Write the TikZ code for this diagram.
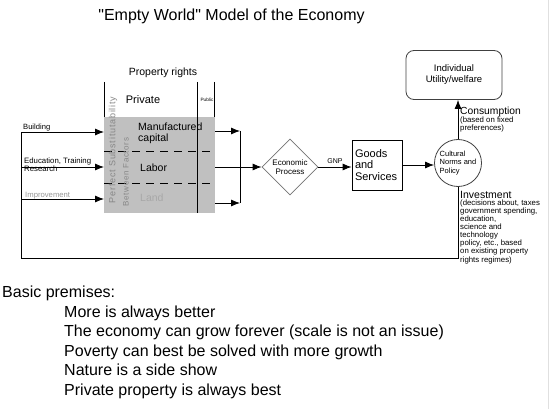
\documentclass[tikz,border=0pt]{standalone}
\usepackage{fontspec}
\setmainfont{Liberation Sans}
\usetikzlibrary{arrows.meta,shapes.geometric,positioning}
\definecolor{boxgray}{RGB}{192,192,192}
\definecolor{landgray}{RGB}{168,168,168}
\definecolor{subgray}{RGB}{135,135,135}
\definecolor{imprgray}{RGB}{150,150,150}
\newcommand{\fsz}[2]{\fontsize{#1}{#2}\selectfont}
\begin{document}
\begin{tikzpicture}[x=1pt,y=-1pt,
	ln/.style={draw=black,line width=0.8pt},
	arr/.style={ln,-{Latex[length=9pt,width=7pt]}},
	dsh/.style={ln,dash pattern=on 8pt off 6pt},
	txt/.style={inner sep=0pt,align=left},
	]
	\useasboundingbox (0,0) rectangle (554,409);
	% khung trang
	\draw[black!12] (548,0) -- (548,409);
	
	% tieu de
	\node[txt,anchor=base,font={\fsz{16}{18}}] (title) at (231.5,21) {\textquotedbl Empty World\textquotedbl{} Model of the Economy};
	
	% cac yeu to san xuat
	\node[fill=boxgray,minimum width=111,minimum height=96,inner sep=0,anchor=north west] (factors) at (104,117) {};
	\draw[dsh] (104,151) -- (215,151);
	\draw[dsh] (104,183) -- (215,183);
	
	% quyen so huu
	\coordinate (privL) at (104,82);
	\coordinate (pubM) at (197,82);
	\coordinate (pubR) at (214,82);
	\draw[ln] (privL) -- (factors.north west);
	\draw[ln] (pubM) -- (pubM |- factors.south);
	\draw[ln] (pubR) -- (pubR |- factors.north);
	\node[txt,font={\fsz{10.5}{12}}] (proprights) at (163,73) {Property rights};
	\node[txt,font={\fsz{11}{13}}] (private) at (143,100) {Private};
	\node[txt,font={\fsz{4.7}{5}}] (public) at (207,100) {Public};
	
	\node[txt,anchor=west,font={\fsz{10.5}{11}}] (mancap) at (138,133.5) {Manufactured\\capital};
	\node[txt,anchor=west,font={\fsz{10.5}{11}}] (labor) at (140,168) {Labor};
	\node[txt,anchor=west,font={\fsz{10.5}{11}},text=landgray] (land) at (140,198) {Land};
	\node[txt,rotate=90,text=subgray,font={\fsz{9}{10}\addfontfeatures{LetterSpace=9}}] (perfsub) at (113,150) {Perfect Substitutability};
	\node[txt,rotate=90,text=subgray,font={\fsz{8}{9}\addfontfeatures{LetterSpace=8}}] (betwfac) at (126,172) {Between Factors};
	
	% dau vao
	\coordinate (fbL) at (21,258);
	\coordinate (inBuild) at (21,132);
	\coordinate (inEdu) at (21,167);
	\coordinate (inImpr) at (21,199);
	\draw[arr] (inBuild) -- (inBuild -| factors.west);
	\draw[arr] (inEdu) -- (inEdu -| factors.west);
	\draw[arr] (inImpr) -- (inImpr -| factors.west);
	\node[txt,anchor=base west,font={\fsz{7.6}{8}}] (lbBuild) at (23,129) {Building};
	\node[txt,anchor=north west,font={\fsz{7.8}{8}}] (lbEdu) at (24,158) {Education, Training\\Research};
	\node[txt,anchor=base west,text=imprgray,font={\fsz{7.7}{8}}] (lbImpr) at (25,197) {Improvement};
	
	% dau ra
	\coordinate (jnT) at (240,131);
	\coordinate (jnB) at (240,203);
	\draw[arr] (factors.east |- jnT) -- (jnT);
	\draw[arr] (factors.east |- jnB) -- (jnB);
	\draw[ln] (jnT) -- (jnB);
	
	% qua trinh kinh te
	\node[diamond,draw=black!55,line width=0.8pt,minimum width=56,minimum height=56,inner sep=0pt,align=center,font={\fsz{8}{9}}] (econ) at (290,167) {Economic\\Process};
	\draw[arr] (factors.east |- econ) -- (econ.west);
	
	\node[draw,line width=0.8pt,minimum width=50,minimum height=50,inner sep=3pt,text width=44,align=left,font={\fsz{11}{11.3}}] (goods) at (377,165) {Goods\\and\\Services};
	\draw[arr] (econ.east) -- (econ.east -| goods.west) node[midway,above=3pt,txt,font={\fsz{7}{8}}]{GNP};
	
	\node[circle,draw=black!75,line width=0.8pt,minimum size=47,inner sep=0,align=left,font={\fsz{7.5}{8.5}}] (cult) at (458,163) {Cultural\\Norms and\\Policy};
	\draw[arr] (goods.east) -- (goods.east -| cult.west);
	
	\node[draw=black!75,line width=0.8pt,rounded corners=8pt,minimum width=96,minimum height=49,align=center,font={\fsz{9.5}{11}}] (util) at (454,75) {Individual\\Utility/welfare};
	\draw[arr] (cult.north) -- (cult.north |- util.south);
	
	\node[txt,anchor=base west,font={\fsz{10.3}{11}}] (consum) at (460,115) {Consumption};
	\node[txt,anchor=north west,font={\fsz{7.8}{8}}] (consnote) at (460,116.5) {(based on fixed\\preferences)};
	
	\node[txt,anchor=base west,font={\fsz{10.5}{11}}] (invest) at (460,198) {Investment};
	\node[txt,anchor=north west,font={\fsz{7.8}{8.1}}] (invnote) at (460,199.5) {(decisions about, taxes\\government spending,\\education,\\science and\\technology\\policy, etc., based\\on existing property\\rights regimes)};
	
	% vong hoi tiep
	\draw[ln] (cult.south) -- (cult.south |- fbL) -- (fbL) -- (inBuild);
	
	% gia dinh co ban
	\node[txt,anchor=base west,font={\fsz{16}{18}}] (premises) at (2,297) {Basic premises:};
	\node[txt,anchor=north west,font={\fsz{16}{19.5}}] (premlist) at (64,305.3) {More is always better\\The economy can grow forever (scale is not an issue)\\Poverty can best be solved with more growth\\Nature is a side show\\Private property is always best};
\end{tikzpicture}
\end{document}
